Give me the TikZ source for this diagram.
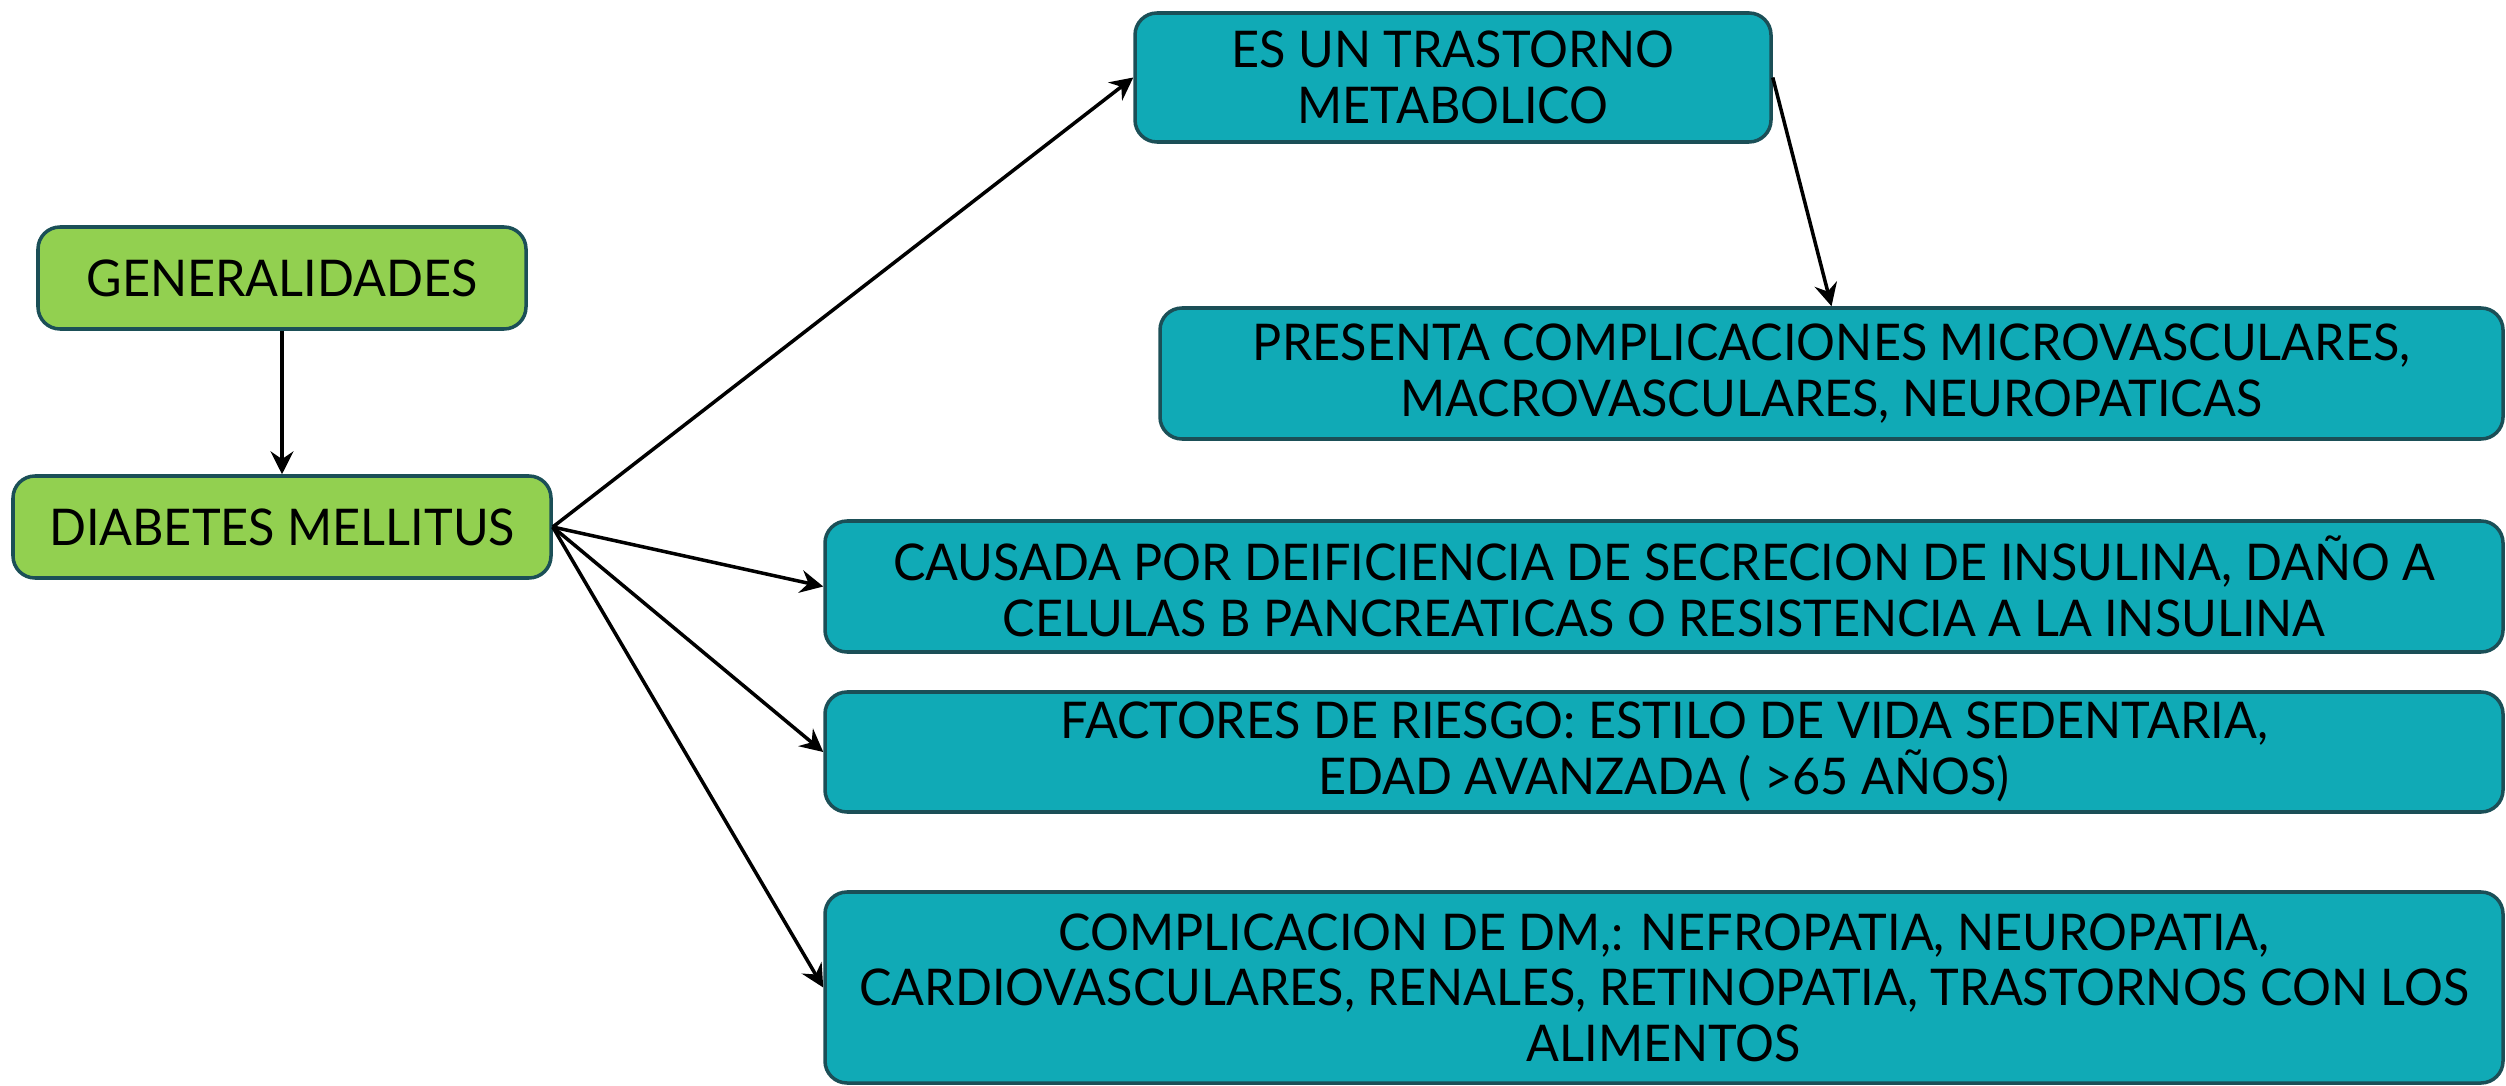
\documentclass[tikz,border=0pt]{standalone}
\usepackage{fontspec}
\setmainfont[FakeStretch=0.96]{Lato}
\usetikzlibrary{shapes, calc, arrows.meta, positioning}

\definecolor{boxgreen}{HTML}{92D050}
\definecolor{boxteal}{HTML}{10AAB6}
\definecolor{boxedge}{HTML}{1B4F57}

\begin{document}
\begin{tikzpicture}[>={Stealth[length=6.5pt, width=6.5pt, inset=2.2pt]}, line width=1pt,
    greenbox/.style={draw=boxedge, fill=boxgreen, rounded corners=0.22cm, inner sep=0pt, align=center},
    tealbox/.style={draw=boxedge, fill=boxteal, rounded corners=0.22cm, inner sep=0pt, align=center},
    font=\fontsize{14.4}{15.8}\selectfont]
    \useasboundingbox (0,0) rectangle (25.06,-10.86);

    \node[greenbox, minimum width=4.88cm, minimum height=1.02cm] at (2.82,-2.78) (general) {GENERALIDADES};
    \node[greenbox, minimum width=5.38cm, minimum height=1.02cm] at (2.82,-5.27) (diabetes) {DIABETES MELLITUS};

    \node[tealbox, minimum width=6.36cm, minimum height=1.29cm] at (14.53,-0.775) (trastorno) {ES UN TRASTORNO\\METABOLICO};
    \node[tealbox, minimum width=13.43cm, minimum height=1.31cm] at (18.315,-3.735) (complic) {PRESENTA COMPLICACIONES MICROVASCULARES,\\MACROVASCULARES, NEUROPATICAS};
    \node[tealbox, minimum width=16.78cm, minimum height=1.31cm] at (16.64,-5.865) (causa) {CAUSADA POR DEIFICIENCIA DE SECRECION DE INSULINA, DAÑO A\\CELULAS B PANCREATICAS O RESISTENCIA A LA INSULINA};
    \node[tealbox, minimum width=16.78cm, minimum height=1.20cm] at (16.64,-7.52) (riesgo) {FACTORES DE RIESGO: ESTILO DE VIDA SEDENTARIA,\\EDAD AVANZADA ( >65 AÑOS)};
    \node[tealbox, minimum width=16.78cm, minimum height=1.91cm] at (16.64,-9.875) (complicdm) {COMPLICACION DE DM,: NEFROPATIA, NEUROPATIA,\\CARDIOVASCULARES, RENALES, RETINOPATIA, TRASTORNOS CON LOS\\ALIMENTOS};

    \draw[->] (general.south) -- (diabetes.north);
    \draw[->] (diabetes.east) -- (trastorno.west);
    \draw[->] (trastorno.east) -- (complic.north);
    \draw[->] (diabetes.east) -- (causa.west);
    \draw[->] (diabetes.east) -- (riesgo.west);
    \draw[->] (diabetes.east) -- (complicdm.west);
\end{tikzpicture}
\end{document}
